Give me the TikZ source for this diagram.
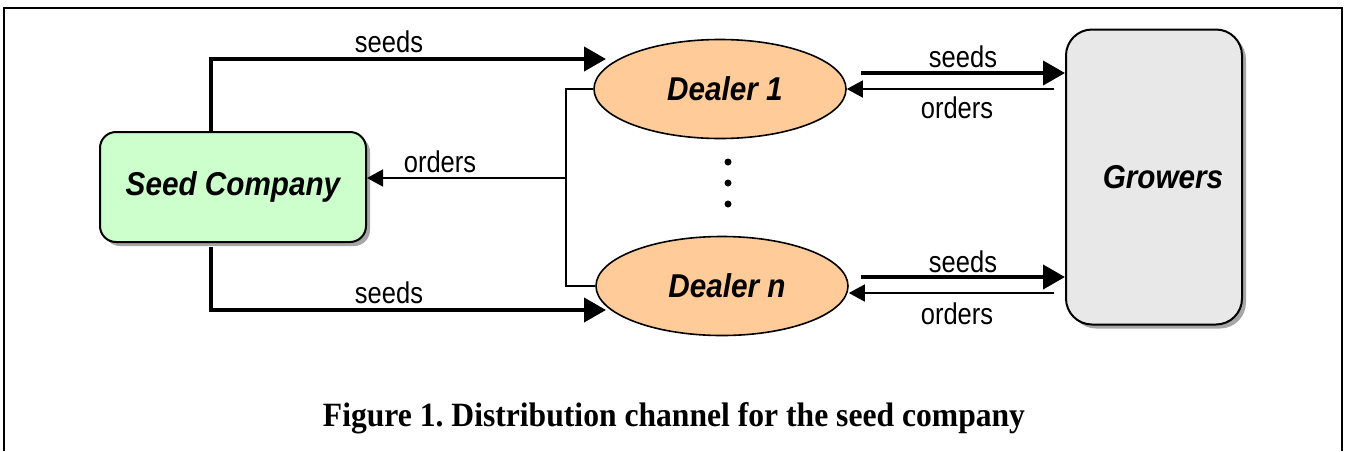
\documentclass[tikz,border=0pt]{standalone}
\usepackage{fontspec}
\setmainfont{Liberation Serif}
\newfontfamily\labfont[FakeStretch=0.85]{Liberation Sans}
\newfontfamily\namefont[FakeStretch=0.9]{Liberation Sans}
\newfontfamily\capfont[FakeStretch=0.93]{Liberation Serif}
\usetikzlibrary{shapes.geometric,arrows.meta,shadows}
\definecolor{scgreen}{HTML}{CCFFCC}
\definecolor{dlorange}{HTML}{FFCC99}
\definecolor{grgray}{HTML}{E8E8E8}
\tikzset{
  boxshadow/.style={drop shadow={shadow xshift=4pt,shadow yshift=-4pt,fill=black!35,opacity=1}},
  namefnt/.style={font=\namefont\fontsize{33}{33}\selectfont\bfseries\itshape},
  company/.style={draw,line width=2pt,rounded corners=16pt,fill=scgreen,minimum width=266pt,minimum height=110pt,boxshadow,namefnt},
  grower/.style={draw,line width=2pt,rounded corners=26pt,fill=grgray,minimum width=176pt,minimum height=295pt,boxshadow,namefnt},
  dealer/.style={draw,ellipse,line width=1.6pt,fill=dlorange,minimum width=252pt,minimum height=99pt,inner sep=0pt,namefnt},
  lbl/.style={inner sep=0pt,font=\labfont\fontsize{30}{30}\selectfont},
  seedarrow/.style={line width=4pt,-{Triangle[length=22pt,width=24pt]}},
  orderarrow/.style={line width=1.5pt,-{Triangle[length=16pt,width=17pt]}},
  orderline/.style={line width=1.5pt},
  dotstyle/.style={circle,fill=black,inner sep=0pt,minimum size=7pt}
}
\begin{document}
\begin{tikzpicture}[x=1pt,y=-1pt]
\useasboundingbox (0,0) rectangle (1346,451);
\draw[line width=1.5pt] (4,451) -- (4,8) -- (1342,8) -- (1342,451);
\node[company] (sc) at (233,187) {Seed Company};
\node[dealer] (d1) at (720,89) {\hspace*{10pt}Dealer 1};
\node[dealer] (dn) at (722,286) {\hspace*{10pt}Dealer n};
\node[grower] (gr) at (1154,177) {\hspace*{18pt}\raisebox{-4pt}{Growers}};
\node[dotstyle] (p1) at (728,162) {};
\node[dotstyle] (p2) at (728,183) {};
\node[dotstyle] (p3) at (728,204) {};
% seeds from company to dealers
\coordinate (a1) at (211,59);
\coordinate (a2) at (211,310);
\coordinate (t1) at (606,59);
\coordinate (t2) at (606,310);
\draw[seedarrow] (sc.north -| a1) -- (a1) -- (t1);
\draw[seedarrow] (211,247) -- (a2) -- (t2);
% orders from dealers to company
\coordinate (j) at (566,178);
\draw[orderline] (d1.west) -- (566,89) -- (566,286) -- (dn.west);
\draw[orderarrow] (j) -- (sc.east |- j);
% dealers - growers
\coordinate (s1a) at (861,73);
\coordinate (o1a) at (1054,89);
\coordinate (s2a) at (861,277);
\coordinate (o2a) at (1054,293);
\draw[seedarrow] (s1a) -- (gr.west |- s1a);
\draw[orderarrow] (o1a) -- (d1.east |- o1a);
\draw[seedarrow] (s2a) -- (gr.west |- s2a);
\draw[orderarrow] (o2a) -- (dn.east |- o2a);
% labels
\node[lbl] (l1) at (389,42) {seeds};
\node[lbl] (l2) at (389,293) {seeds};
\node[lbl] (l3) at (440,162) {orders};
\node[lbl] (l4) at (963,57) {seeds};
\node[lbl] (l5) at (957,108) {orders};
\node[lbl] (l6) at (963,262) {seeds};
\node[lbl] (l7) at (957,314) {orders};
\node[inner sep=0pt,anchor=base,font=\capfont\fontsize{34}{34}\selectfont\bfseries\frenchspacing] (cap) at (674,426) {Figure 1. Distribution channel for the seed company};
\end{tikzpicture}
\end{document}
